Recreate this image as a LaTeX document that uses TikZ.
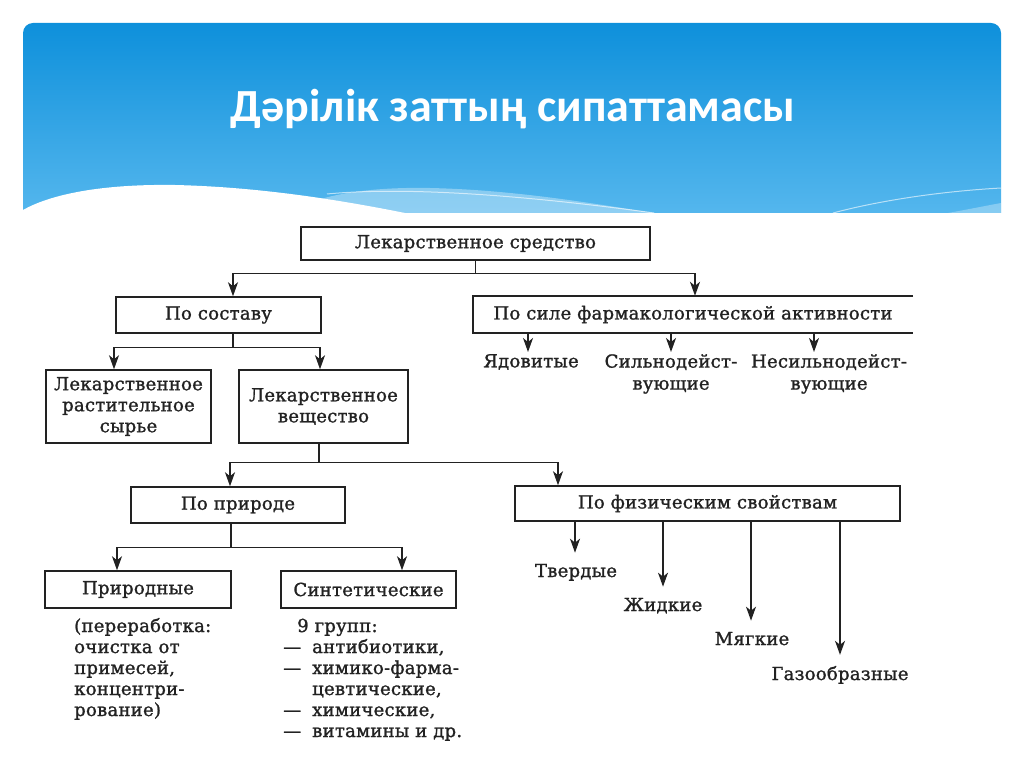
\documentclass[tikz,border=0pt]{standalone}
\usepackage{fontspec}
\newfontfamily\dfont{DejaVu Serif}[LetterSpace=1.5,FakeBold=1.3]
\newfontfamily\titlefont{Carlito}
\usetikzlibrary{arrows.meta}
\definecolor{ink}{HTML}{222222}
\definecolor{btop}{HTML}{0E90DB}
\definecolor{bbot}{HTML}{5EBCF0}
\begin{document}
\begin{tikzpicture}[x=1pt,y=-1pt,
  txt/.style={font=\dfont\fontsize{18}{21}\selectfont, text=ink},
  box/.style={txt, draw=ink, line width=1.5pt, inner sep=0pt, align=center},
  lbl/.style={txt, inner sep=1pt, align=center},
  ln/.style={draw=ink, line width=1.4pt},
  arr/.style={ln, -{Stealth[length=14pt,width=10pt,inset=4pt]}}]
\useasboundingbox (0,0) rectangle (1024,767);
\fill[white] (0,0) rectangle (1024,767);
% header
\begin{scope}
\clip (0,0) rectangle (1024,213);
\shade[top color=btop, bottom color=bbot, rounded corners=10pt] (23,23) rectangle (1001,240);
\end{scope}
\fill[white, opacity=0.35] (290,213) .. controls (320,192) and (380,187) .. (430,188) .. controls (520,190) and (600,205) .. (655,213) -- cycle;
\draw[white, opacity=0.6, line width=1pt] (327,194) .. controls (420,185) and (560,200) .. (654,213);
\draw[white, opacity=0.6, line width=1pt] (1001,188) .. controls (930,192) and (870,203) .. (833,213);
\fill[white, opacity=0.3] (948,213) .. controls (970,209) and (990,205) .. (1001,203) -- (1001,213) -- cycle;
\fill[white] (23,210) .. controls (55,192) and (110,184) .. (175,185) .. controls (260,187) and (340,200) .. (405,213) -- (23,213) -- cycle;
\node[font=\titlefont\bfseries\fontsize{46}{54}\selectfont, text=white, anchor=base, inner sep=0pt] (title) at (513,122) {Дәрілік заттың сипаттамасы};
% boxes
\node[box, minimum width=349pt, minimum height=33pt] (ls) at (475.5,243.5) {Лекарственное средство};
\node[box, minimum width=205pt, minimum height=36pt] (ps) at (218.5,315) {По составу};
\node[txt, inner sep=0pt, minimum width=440pt, minimum height=37pt] (pf) at (693,314.5) {По силе фармакологической активности};
\draw[ln, line width=1.5pt] (pf.north east) -- (pf.north west) -- (pf.south west) -- (pf.south east);
\node[box, minimum width=165pt, minimum height=73pt] (lrs) at (128.5,406.5) {Лекарственное\\растительное\\сырье};
\node[box, minimum width=169pt, minimum height=73pt] (lv) at (323.5,406.5) {Лекарственное\\вещество};
\node[box, minimum width=214pt, minimum height=36pt] (pp) at (238,505) {По природе};
\node[box, minimum width=385pt, minimum height=35pt] (pfs) at (707.5,503.5) {По физическим свойствам};
\node[box, minimum width=186pt, minimum height=37pt] (pr) at (138,589.5) {Природные};
\node[box, minimum width=175pt, minimum height=37pt] (sn) at (368.5,589.5) {Синтетические};
% labels
\node[lbl, anchor=north] (yd) at (531,353) {Ядовитые};
\node[lbl, anchor=north, font=\dfont\fontsize{18}{22}\selectfont] (sd) at (671,353) {Сильнодейст-\\вующие};
\node[lbl, anchor=north, font=\dfont\fontsize{18}{22}\selectfont] (ns) at (829,353) {Несильнодейст-\\вующие};
\node[lbl, anchor=base] (tv) at (576,577) {Твердые};
\node[lbl, anchor=base] (zh) at (663,611) {Жидкие};
\node[lbl, anchor=base] (mg) at (752,645) {Мягкие};
\node[lbl, anchor=base] (gz) at (840,680) {Газообразные};
\node[txt, anchor=base west, inner sep=0pt] (nt) at (74,632) {\begin{tabular}[t]{@{}l@{}}(переработка:\\очистка от\\примесей,\\концентри-\\рование)\end{tabular}};
\node[txt, anchor=base west, inner sep=0pt] (st) at (283,632) {\begin{tabular}[t]{@{}l@{}l@{}}\multicolumn{2}{@{}l@{}}{\hspace{14pt}9 групп:}\\\makebox[29pt][l]{—}&антибиотики,\\—&химико-фарма-\\&цевтические,\\—&химические,\\—&витамины и др.\end{tabular}};
% connectors
\draw[arr] (ls.south) -- ++(0,13) -| ([xshift=14.5pt]ps.north);
\draw[arr] (ls.south) -- ++(0,13) -| ([xshift=2pt]pf.north);
\draw[arr] ([xshift=14.5pt]ps.south) -- ++(0,14) -| ([xshift=-14.5pt]lrs.north);
\draw[arr] ([xshift=14.5pt]ps.south) -- ++(0,14) -| ([xshift=-3.5pt]lv.north);
\draw[arr] ([xshift=-4.5pt]lv.south) -- ++(0,19) -| ([xshift=-8pt]pp.north);
\draw[arr] ([xshift=-4.5pt]lv.south) -- ++(0,19) -| ([xshift=-149.5pt]pfs.north);
\draw[arr] ([xshift=-7pt]pp.south) -- ++(0,24) -| ([xshift=-21pt]pr.north);
\draw[arr] ([xshift=-7pt]pp.south) -- ++(0,24) -| ([xshift=33.5pt]sn.north);
\draw[arr] ([xshift=-165pt]pf.south) -- ([xshift=-3pt,yshift=1pt]yd.north);
\draw[arr] ([xshift=-22pt]pf.south) -- ([yshift=1pt]sd.north);
\draw[arr] ([xshift=121pt]pf.south) -- ([xshift=-15pt,yshift=1pt]ns.north);
\draw[arr] ([xshift=-132.5pt]pfs.south) -- ([xshift=-1pt,yshift=10pt]tv.north);
\draw[arr] ([xshift=-44.5pt]pfs.south) -- ([yshift=10pt]zh.north);
\draw[arr] ([xshift=43.5pt]pfs.south) -- ([xshift=-1pt,yshift=10pt]mg.north);
\draw[arr] ([xshift=132.5pt]pfs.south) -- ([yshift=10pt]gz.north);
\end{tikzpicture}
\end{document}
